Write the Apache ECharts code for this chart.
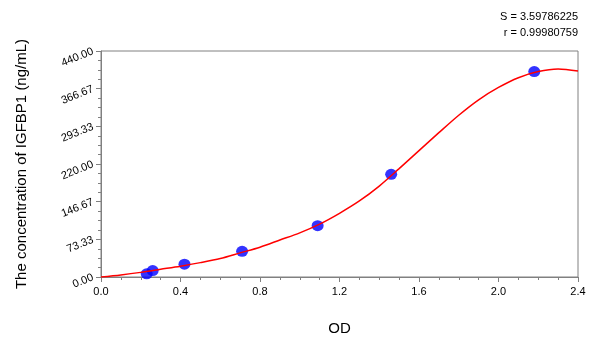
<!DOCTYPE html>
<html>
<head>
<meta charset="utf-8">
<script src="https://cdn.jsdelivr.net/npm/echarts@6/dist/echarts.min.js"></script>
<style>html,body{margin:0;padding:0;background:#fff}#c{width:600px;height:337px}</style>
</head>
<body>
<div id="c"></div>
<script>
var pointOD = [0.23, 0.26, 0.42, 0.71, 1.09, 1.46, 2.18];
var pointConc = [6.25, 12.5, 25, 50, 100, 200, 400];
var curveOD = [0, 0.1, 0.2, 0.3, 0.4, 0.5, 0.6, 0.7, 0.8, 0.9, 1.0, 1.1, 1.2, 1.3, 1.4, 1.5, 1.6, 1.7, 1.8, 1.9, 2.0, 2.1, 2.2, 2.3, 2.4];
var curveConc = [0, 4, 9, 15, 21, 28, 36, 47, 58, 72, 86, 103, 124, 148, 177, 211, 246, 281, 315, 345, 369, 388, 400, 405, 401];
var statS = 'S = 3.59786225';
var statR = 'r = 0.99980759';
var yTitle = 'The concentration of IGFBP1 (ng/mL)';
var xTitle = 'OD';

var font = 'Liberation Sans, Arial, sans-serif';
var chart = echarts.init(document.getElementById('c'));
chart.setOption({
  animation: false,
  backgroundColor: '#fff',
  grid: {left: 101, right: 22, top: 51, bottom: 60, show: true, borderColor: '#808080', borderWidth: 1, backgroundColor: 'transparent', containLabel: false, outerBoundsMode: 'none'},
  graphic: [
    {type: 'text', x: 578, y: 17, style: {text: statS, textAlign: 'right', textVerticalAlign: 'middle', font: '11px ' + font, fill: '#000'}},
    {type: 'text', x: 578, y: 33, style: {text: statR, textAlign: 'right', textVerticalAlign: 'middle', font: '11px ' + font, fill: '#000'}}
  ],
  xAxis: {
    type: 'value', min: 0, max: 2.4, interval: 0.4,
    name: xTitle, nameLocation: 'middle', nameGap: 44,
    nameTextStyle: {fontSize: 15, fontFamily: font, color: '#000'},
    axisLine: {show: true, lineStyle: {color: '#808080'}},
    axisTick: {show: true, length: 5, lineStyle: {color: '#808080'}},
    minorTick: {show: true, splitNumber: 4, length: 3, lineStyle: {color: '#808080'}},
    splitLine: {show: false},
    axisLabel: {fontSize: 11, fontFamily: font, color: '#000', margin: 9, formatter: function (v) { return v.toFixed(1); }}
  },
  yAxis: {
    type: 'value', min: 0, max: 440, interval: 440 / 6,
    name: yTitle, nameLocation: 'middle', nameGap: 72,
    nameTextStyle: {fontSize: 15, fontFamily: font, color: '#000'},
    axisLine: {show: true, lineStyle: {color: '#808080'}},
    axisTick: {show: true, length: 5, lineStyle: {color: '#808080'}},
    minorTick: {show: true, splitNumber: 4, length: 3, lineStyle: {color: '#808080'}},
    splitLine: {show: false},
    axisLabel: {fontSize: 11, fontFamily: font, color: '#000', rotate: 22, margin: 8, formatter: function (v) { return v.toFixed(2); }}
  },
  series: [
    {type: 'scatter', data: pointOD.map(function (x, i) { return [x, pointConc[i]]; }),
     symbol: 'circle', symbolSize: [12, 11], itemStyle: {color: '#0000ff'}, z: 2},
    {type: 'line', data: curveOD.map(function (x, i) { return [x, curveConc[i]]; }),
     smooth: 0.3, showSymbol: false, lineStyle: {color: '#ff0000', width: 1.5}, z: 3}
  ]
});
</script>
</body>
</html>
